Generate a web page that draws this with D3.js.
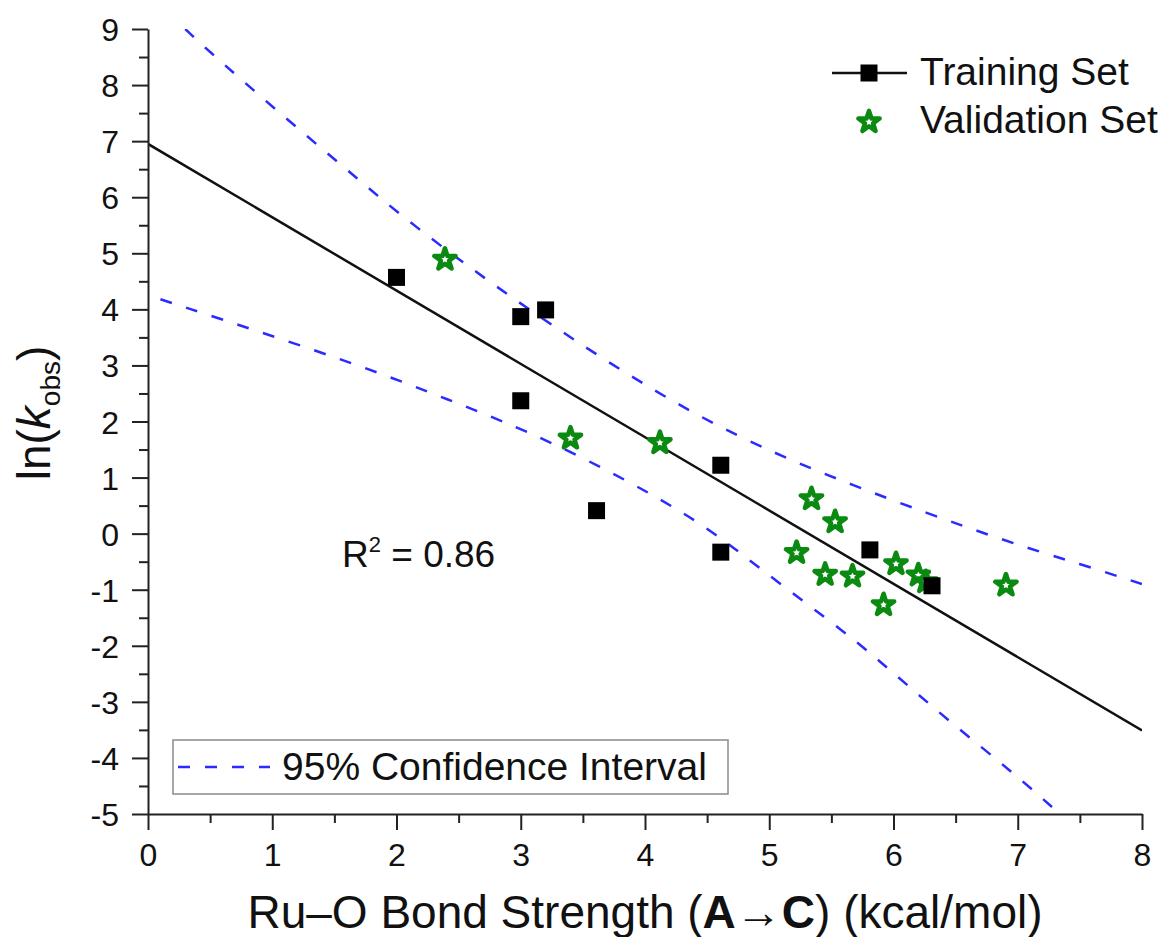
<!DOCTYPE html>
<html>
<head>
<meta charset="utf-8">
<script src="https://cdn.jsdelivr.net/npm/d3@7"></script>
<style>
  body { margin: 0; background: #fff; }
  svg text { font-family: "Liberation Sans", Arial, sans-serif; fill: #111; }
</style>
</head>
<body>
<div id="chart"></div>
<script>
// training set (black squares)
const trainX = [2.00, 3.00, 3.20, 3.00, 3.61, 4.61, 4.61, 5.81, 6.31];
const trainY = [4.57, 3.87, 3.99, 2.37, 0.41, 1.22, -0.33, -0.29, -0.93];
// validation set (green stars)
const validX = [2.39, 3.40, 4.12, 5.34, 5.53, 5.22, 5.45, 5.67, 6.02, 6.20, 6.26, 5.92, 6.905];
const validY = [4.89, 1.70, 1.62, 0.62, 0.21, -0.34, -0.73, -0.76, -0.54, -0.74, -0.86, -1.27, -0.92];
// fitted line
const fitX = [0, 8];
const fitY = [6.95, -3.51];
// 95% confidence bands
const upperX = [0.30, 0.42, 1.09, 1.73, 2.08, 2.97, 4.45, 5.68, 6.86, 7.53, 8.00];
const upperY = [9.00, 8.74, 7.44, 6.25, 5.59, 4.11, 1.97, 0.84, -0.11, -0.56, -0.90];
const lowerX = [0.10, 1.63, 2.43, 3.24, 4.40, 4.90, 5.65, 5.97, 6.45, 6.94, 7.34];
const lowerY = [4.18, 3.07, 2.38, 1.67, 0.31, -0.59, -1.82, -2.43, -3.35, -4.22, -5.00];

const xTicks = [0, 1, 2, 3, 4, 5, 6, 7, 8];
const yTicks = [-5, -4, -3, -2, -1, 0, 1, 2, 3, 4, 5, 6, 7, 8, 9];

const W = 1170, H = 937;
const green = "#0b8a12", blue = "#2b2bff";

const x = d3.scaleLinear().domain([0, 8]).range([148, 1142]);
const y = d3.scaleLinear().domain([-5, 9]).range([814, 29]);

const svg = d3.select("#chart").append("svg")
  .attr("width", W).attr("height", H);

svg.append("clipPath").attr("id", "clip")
  .append("rect").attr("x", 148).attr("y", 29).attr("width", 994).attr("height", 785);

const line = d3.line().x(d => x(d[0])).y(d => y(d[1]));
const smooth = d3.line().x(d => x(d[0])).y(d => y(d[1])).curve(d3.curveBasis);

const plot = svg.append("g").attr("clip-path", "url(#clip)");

plot.append("path")
  .attr("d", smooth(d3.zip(upperX, upperY)))
  .attr("fill", "none").attr("stroke", blue).attr("stroke-width", 2.5)
  .attr("stroke-dasharray", "12,15");
plot.append("path")
  .attr("d", smooth(d3.zip(lowerX, lowerY)))
  .attr("fill", "none").attr("stroke", blue).attr("stroke-width", 2.5)
  .attr("stroke-dasharray", "12,15");

plot.append("path")
  .attr("d", line(d3.zip(fitX, fitY)))
  .attr("fill", "none").attr("stroke", "#111").attr("stroke-width", 2.5);

const star = d3.symbol().type(d3.symbolStar).size(140);

svg.append("g").selectAll("path")
  .data(d3.zip(validX, validY))
  .enter().append("path")
  .attr("d", star)
  .attr("transform", d => "translate(" + x(d[0]) + "," + y(d[1]) + ")")
  .attr("fill", "#fff").attr("stroke", green).attr("stroke-width", 4.5)
  .attr("stroke-linejoin", "round");

svg.append("g").selectAll("rect")
  .data(d3.zip(trainX, trainY))
  .enter().append("rect")
  .attr("x", d => x(d[0]) - 8.5).attr("y", d => y(d[1]) - 8.5)
  .attr("width", 17).attr("height", 17)
  .attr("fill", "#000");

// axes
const yAxis = svg.append("g").attr("transform", "translate(148,0)")
  .call(d3.axisLeft(y).tickValues(yTicks).tickSize(16).tickSizeOuter(0).tickPadding(13).tickFormat(d => String(d)));
svg.append("g").attr("transform", "translate(148,0)")
  .call(d3.axisLeft(y).tickValues(yTicks.slice(0, -1).map(d => d + 0.5)).tickSize(9).tickFormat(""))
  .call(g => g.select(".domain").remove());

const xAxis = svg.append("g").attr("transform", "translate(0,814)")
  .call(d3.axisBottom(x).tickValues(xTicks).tickSize(16).tickSizeOuter(0).tickPadding(13).tickFormat(d => String(d)));
svg.append("g").attr("transform", "translate(0,814)")
  .call(d3.axisBottom(x).tickValues(xTicks.slice(0, -1).map(d => d + 0.5)).tickSize(9).tickFormat(""))
  .call(g => g.select(".domain").remove());

svg.selectAll(".domain, .tick line").attr("stroke", "#222").attr("stroke-width", 2);
svg.selectAll(".tick text")
  .attr("font-family", "Liberation Sans, Arial, sans-serif")
  .attr("font-size", 32).attr("fill", "#111");
yAxis.selectAll(".tick text").attr("dy", "0.36em");

// axis titles
const xt = svg.append("text")
  .attr("x", 645).attr("y", 928)
  .attr("text-anchor", "middle").attr("font-size", 46);
xt.append("tspan").text("Ru–O Bond Strength (");
xt.append("tspan").attr("font-weight", "bold").text("A");
xt.append("tspan").text("→");
xt.append("tspan").attr("font-weight", "bold").text("C");
xt.append("tspan").text(") (kcal/mol)");

const yt = svg.append("text")
  .attr("transform", "translate(50,413) rotate(-90)")
  .attr("text-anchor", "middle").attr("font-size", 46);
yt.append("tspan").text("ln(");
yt.append("tspan").attr("font-style", "italic").text("k");
yt.append("tspan").attr("font-size", 28).attr("dy", 10).text("obs");
yt.append("tspan").attr("dy", -10).text(")");

// R squared
const rt = svg.append("text").attr("x", 342).attr("y", 567).attr("font-size", 37);
rt.append("tspan").text("R");
rt.append("tspan").attr("font-size", 22).attr("dy", -15).text("2");
rt.append("tspan").attr("dy", 15).text(" = 0.86");

// legend top right
svg.append("line").attr("x1", 832).attr("x2", 907).attr("y1", 73).attr("y2", 73)
  .attr("stroke", "#111").attr("stroke-width", 2.5);
svg.append("rect").attr("x", 869 - 8.5).attr("y", 73 - 8.5).attr("width", 17).attr("height", 17).attr("fill", "#000");
svg.append("text").attr("x", 920).attr("y", 85).attr("font-size", 39).text("Training Set");
svg.append("path").attr("d", star).attr("transform", "translate(869,122)")
  .attr("fill", "#fff").attr("stroke", green).attr("stroke-width", 4.5).attr("stroke-linejoin", "round");
svg.append("text").attr("x", 920).attr("y", 133).attr("font-size", 39).text("Validation Set");

// legend bottom left
svg.append("rect").attr("x", 173).attr("y", 740).attr("width", 555).attr("height", 54)
  .attr("fill", "#fff").attr("stroke", "#8a8a8a").attr("stroke-width", 1.5);
svg.append("line").attr("x1", 178).attr("x2", 270).attr("y1", 767).attr("y2", 767)
  .attr("stroke", blue).attr("stroke-width", 2.5).attr("stroke-dasharray", "12,15");
svg.append("text").attr("x", 282).attr("y", 780).attr("font-size", 39).text("95% Confidence Interval");
</script>
</body>
</html>
